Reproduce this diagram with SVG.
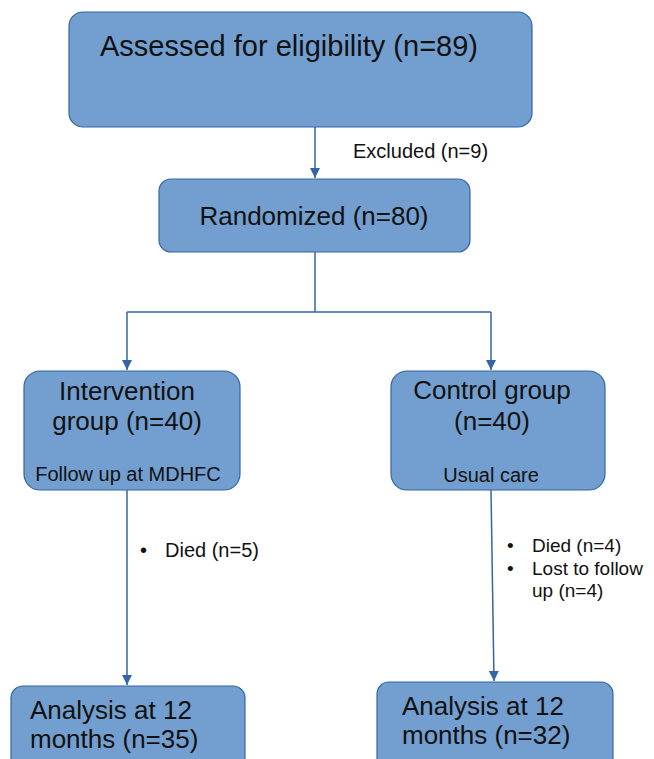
<svg xmlns="http://www.w3.org/2000/svg" width="654" height="759" viewBox="0 0 654 759">
<defs>
<style>
.box{fill:#729fcf;stroke:#3465a4;stroke-width:1.2}
.ln{fill:none;stroke:#3465a4;stroke-width:1.5}
text{font-family:"Liberation Sans",Arial,sans-serif;fill:#111}
.xl{font-size:29px}
.big{font-size:26px}
.sm{font-size:20px}
.bl{font-size:19px}
</style>
<marker id="ah" viewBox="0 0 10 10" refX="10" refY="5" markerWidth="10" markerHeight="14" markerUnits="userSpaceOnUse" orient="auto">
<path d="M0,0 L10,5 L0,10 Z" fill="#3465a4"/>
</marker>
</defs>
<rect width="654" height="759" fill="#fff"/>
<g id="connectors">
<path class="ln" d="M315,127 V178" marker-end="url(#ah)"/>
<path class="ln" d="M315,252 V312 M127,312 H491"/>
<path class="ln" d="M127,312 V370" marker-end="url(#ah)"/>
<path class="ln" d="M491,312 V370" marker-end="url(#ah)"/>
<path class="ln" d="M127,490 V685" marker-end="url(#ah)"/>
<path class="ln" d="M491,490 L494,681" marker-end="url(#ah)"/>
</g>
<g id="assessed">
<rect class="box" x="69" y="12" width="463" height="115" rx="14"/>
<text class="xl" x="100" y="56">Assessed for eligibility (n=89)</text>
</g>
<g id="excluded">
<text class="sm" x="353" y="158">Excluded (n=9)</text>
</g>
<g id="randomized">
<rect class="box" x="159" y="179" width="311" height="73" rx="12"/>
<text class="big" x="314" y="225" text-anchor="middle">Randomized (n=80)</text>
</g>
<g id="intervention">
<rect class="box" x="24" y="371" width="216" height="119" rx="16"/>
<text class="big" x="127" y="400" text-anchor="middle">Intervention</text>
<text class="big" x="127" y="430" text-anchor="middle">group (n=40)</text>
<text class="sm" x="128" y="481" text-anchor="middle">Follow up at MDHFC</text>
</g>
<g id="control">
<rect class="box" x="391" y="371" width="214" height="119" rx="16"/>
<text class="big" x="492" y="399" text-anchor="middle">Control group</text>
<text class="big" x="492" y="430" text-anchor="middle">(n=40)</text>
<text class="sm" x="491" y="482" text-anchor="middle">Usual care</text>
</g>
<g id="died-left">
<text class="sm" x="140" y="557">•</text>
<text class="sm" x="165" y="557">Died (n=5)</text>
</g>
<g id="died-right">
<text class="bl" x="507" y="552">•</text>
<text class="bl" x="532" y="552">Died (n=4)</text>
<text class="bl" x="507" y="575">•</text>
<text class="bl" x="532" y="575">Lost to follow</text>
<text class="bl" x="532" y="597">up (n=4)</text>
</g>
<g id="analysis-left">
<rect class="box" x="11" y="686" width="234" height="90" rx="12"/>
<text class="big" x="30" y="719">Analysis at 12</text>
<text class="big" x="30" y="748">months (n=35)</text>
</g>
<g id="analysis-right">
<rect class="box" x="377" y="682" width="236" height="94" rx="12"/>
<text class="big" x="402" y="715">Analysis at 12</text>
<text class="big" x="402" y="744">months (n=32)</text>
</g>
</svg>
